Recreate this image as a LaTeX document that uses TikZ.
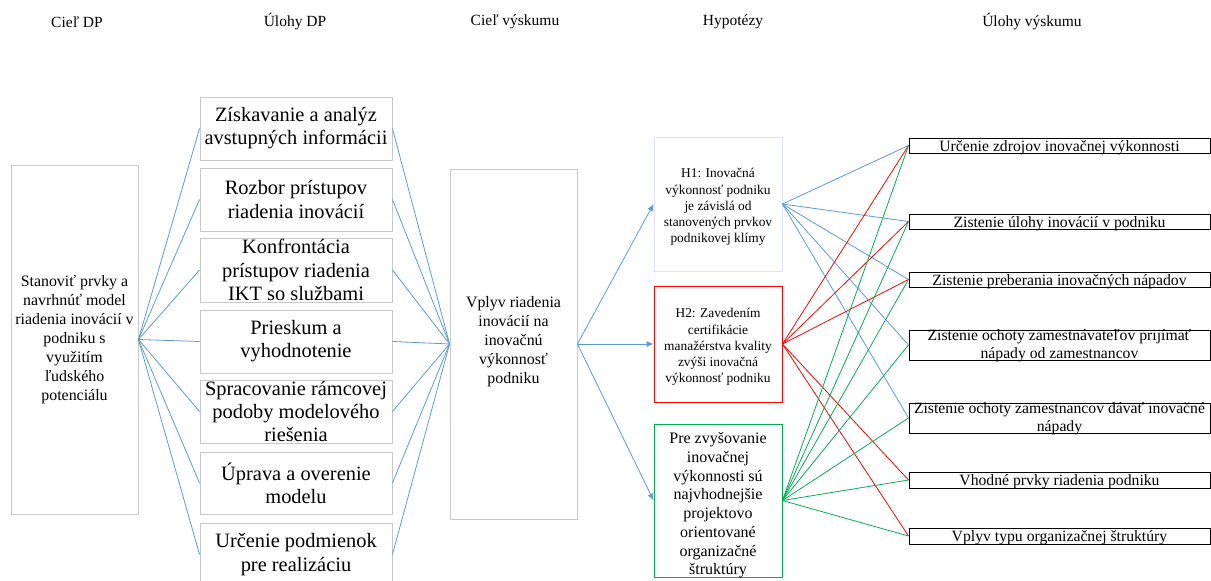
\documentclass[tikz,border=0pt]{standalone}
\usepackage{fontspec}
\setmainfont{Liberation Serif}
\newfontfamily\tnr{Liberation Serif}
\usetikzlibrary{arrows.meta,shadows}
\definecolor{lnblue}{HTML}{5B9BD5}
\definecolor{lnred}{HTML}{FF0000}
\definecolor{lngreen}{HTML}{00B050}
\definecolor{boxgray}{HTML}{C8C8C8}
\definecolor{h1gray}{HTML}{DCE4F0}
\begin{document}
\begin{tikzpicture}[x=1pt,y=-1pt,
  header/.style={font=\tnr\fontsize{15.5}{17}\selectfont, inner sep=0},
  graybox/.style={draw=boxgray, line width=0.9pt, fill=white, inner sep=0,
     drop shadow={shadow xshift=1.2pt, shadow yshift=-1.2pt, fill=lnblue!25, opacity=0.6}},
  lbox/.style={graybox, minimum width=127, minimum height=349},
  ubox/.style={graybox, minimum width=192, minimum height=63},
  cbox/.style={graybox, minimum width=127, minimum height=350},
  hbox/.style={draw, line width=0.9pt, fill=white, inner sep=0, minimum width=128},
  rbox/.style={draw=black, line width=1pt, fill=white, inner sep=0, minimum width=301,
     drop shadow={shadow xshift=0.8pt, shadow yshift=-1pt, fill=gray!60, opacity=1}},
  ltext/.style={align=center, inner sep=0, font=\tnr\fontsize{15.9}{19}\selectfont},
  utext/.style={align=center, inner sep=0, font=\tnr\fontsize{20.4}{23.2}\selectfont},
  htext/.style={align=center, inner sep=0, font=\tnr\fontsize{13.4}{16.2}\selectfont},
  h3text/.style={align=center, inner sep=0, font=\tnr\fontsize{16}{18.7}\selectfont},
  rtext/.style={align=center, inner sep=0, font=\tnr\fontsize{15.7}{18}\selectfont},
  bl/.style={draw=lnblue, line width=0.8pt},
  rd/.style={draw=lnred, line width=0.8pt},
  gr/.style={draw=lngreen, line width=0.8pt},
  arr/.style={bl, -{Latex[length=7pt,width=6pt]}}
]
\useasboundingbox (0,0) rectangle (1211,581);

% headers
\node[header] (t1) at (77,22) {Cieľ DP};
\node[header] (t2) at (295,22) {Úlohy DP};
\node[header] (t3) at (515,22) {Cieľ výskumu};
\node[header] (t4) at (733,22) {Hypotézy};
\node[header] (t5) at (1032,22) {Úlohy výskumu};

% boxes
\node[lbox] (L) at (74.5,339.5) {};
\node[ubox] (u1) at (296,128.5) {};
\node[ubox] (u2) at (296,199.5) {};
\node[ubox, minimum height=64] (u3) at (296,270) {};
\node[ubox] (u4) at (296,341.5) {};
\node[ubox] (u5) at (296,411.5) {};
\node[ubox, minimum height=62] (u6) at (296,483) {};
\node[ubox] (u7) at (296,554.5) {};
\node[cbox] (C) at (513.5,344) {};

\node[hbox, draw=h1gray, minimum height=134] (h1) at (718,204) {};
\node[hbox, draw=lnred, minimum height=116] (h2) at (718,344) {};
\node[hbox, draw=lngreen, minimum height=153] (h3) at (718,500.5) {};

\node[rbox, minimum height=15] (r1) at (1059.5,145.5) {};
\node[rbox, minimum height=15] (r2) at (1059.5,221.5) {};
\node[rbox, minimum height=15] (r3) at (1059.5,279.5) {};
\node[rbox, minimum height=30] (r4) at (1059.5,345) {};
\node[rbox, minimum height=30] (r5) at (1059.5,418) {};
\node[rbox, minimum height=16] (r6) at (1059.5,480) {};
\node[rbox, minimum height=16] (r7) at (1059.5,536) {};

% connectors
\foreach \u in {u1,u2,u3,u4,u5,u6,u7}{
  \draw[bl] (L.east) -- (\u.west);
  \draw[bl] (\u.east) -- (C.west);
}
\draw[arr] (C.east) -- (h1.west);
\draw[arr] (C.east) -- (h2.west);
\draw[arr] (C.east) -- (h3.west);

\foreach \r in {r1,r2,r3,r4,r5}{ \draw[bl] (h1.east) -- (\r.west); }
\foreach \r in {r1,r2,r3,r6,r7}{ \draw[rd] (h2.east) -- (\r.west); }
\foreach \r in {r1,r2,r3,r4,r5,r6,r7}{ \draw[gr] (h3.east) -- (\r.west); }

% texts
\node[ltext] (Lt) at (L.center) {Stanoviť prvky a\\navrhnúť model\\riadenia inovácií v\\podniku s\\využitím\\ľudského\\potenciálu};
\node[utext] (u1t) at (u1.center) {Získavanie a analýz\\avstupných informácii};
\node[utext] (u2t) at (u2.center) {Rozbor prístupov\\riadenia inovácií};
\node[utext] (u3t) at (u3.center) {Konfrontácia\\prístupov riadenia\\IKT so službami};
\node[utext] (u4t) at (u4.center) {Prieskum a\\vyhodnotenie};
\node[utext] (u5t) at (u5.center) {Spracovanie rámcovej\\podoby modelového\\riešenia};
\node[utext] (u6t) at (u6.center) {Úprava a overenie\\modelu};
\node[utext] (u7t) at (u7.center) {Určenie podmienok\\pre realizáciu};
\node[ltext] (Ct) at ([yshift=2pt]C.center) {Vplyv riadenia\\inovácií na\\inovačnú\\výkonnosť\\podniku};
\node[htext] (h1t) at ([yshift=-3pt]h1.center) {H1: Inovačná\\výkonnosť podniku\\je závislá od\\stanovených prvkov\\podnikovej klímy};
\node[htext] (h2t) at ([yshift=-3pt]h2.center) {H2: Zavedením\\certifikácie\\manažérstva kvality\\zvýši inovačná\\výkonnosť podniku};
\node[h3text] (h3t) at ([yshift=-5pt]h3.center) {Pre zvyšovanie\\inovačnej\\výkonnosti sú\\najvhodnejšie\\projektovo\\orientované\\organizačné\\štruktúry};
\node[rtext] (r1t) at ([yshift=-2pt]r1.center) {Určenie zdrojov inovačnej výkonnosti};
\node[rtext] (r2t) at ([yshift=-2pt]r2.center) {Zistenie úlohy inovácií v podniku};
\node[rtext] (r3t) at ([yshift=-2pt]r3.center) {Zistenie preberania inovačných nápadov};
\node[rtext] (r4t) at ([yshift=-1pt]r4.center) {Zistenie ochoty zamestnávateľov prijímať\\nápady od zamestnancov};
\node[rtext] (r5t) at ([yshift=-1pt]r5.center) {Zistenie ochoty zamestnancov dávať inovačné\\nápady};
\node[rtext] (r6t) at ([yshift=-2pt]r6.center) {Vhodné prvky riadenia podniku};
\node[rtext] (r7t) at ([yshift=-2pt]r7.center) {Vplyv typu organizačnej štruktúry};
\end{tikzpicture}
\end{document}
